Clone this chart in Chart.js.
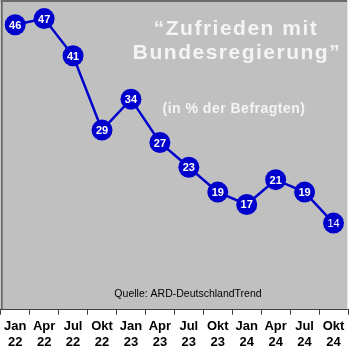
<!DOCTYPE html>
<html>
<head>
<meta charset="utf-8">
<script src="https://cdn.jsdelivr.net/npm/chart.js@4"></script>
<style>
  body { margin: 0; background: #fff; }
  #wrap { width: 350px; height: 360px; }
</style>
</head>
<body>
<div id="wrap"><canvas id="umfrage" width="350" height="360"></canvas></div>
<script>
// Werte aus dem ARD-DeutschlandTrend
const monate = ['Jan', 'Apr', 'Jul', 'Okt', 'Jan', 'Apr', 'Jul', 'Okt', 'Jan', 'Apr', 'Jul', 'Okt'];
const jahre = ['22', '22', '22', '22', '23', '23', '23', '23', '24', '24', '24', '24'];
const zufrieden = [46, 47, 41, 29, 34, 27, 23, 19, 17, 21, 19, 14];

const titelZeilen = ['\u201CZufrieden mit', 'Bundesregierung\u201D'];
const untertitel = '(in % der Befragten)';
const quelle = 'Quelle: ARD-DeutschlandTrend';

const blau = '#0000CC';
const schrift = '"Liberation Sans", Arial, sans-serif';

// grauer Hintergrund mit Rahmen
const hintergrund = {
  id: 'hintergrund',
  beforeDraw(chart) {
    const { ctx, chartArea: a } = chart;
    ctx.save();
    ctx.fillStyle = '#C0C0C0';
    ctx.fillRect(a.left, a.top, a.right - a.left, a.bottom - a.top);
    ctx.fillStyle = '#6a6a6a';
    ctx.fillRect(a.left, a.top, 2, a.bottom - a.top);
    ctx.fillRect(a.left, a.top, a.right - a.left, 2);
    ctx.fillStyle = '#e4e4e4';
    ctx.fillRect(a.right - 1, a.top, 1, a.bottom - a.top);
    ctx.restore();
  },
};

// Titel, Untertitel, Quelle und Werte in den Punkten
const texte = {
  id: 'texte',
  afterDatasetsDraw(chart) {
    const { ctx } = chart;
    ctx.save();
    ctx.textAlign = 'center';
    ctx.textBaseline = 'alphabetic';

    ctx.fillStyle = '#f4f4f4';
    ctx.font = 'bold 21px ' + schrift;
    ctx.letterSpacing = '1.5px';
    ctx.fillText(titelZeilen[0], 236, 35);
    ctx.fillText(titelZeilen[1], 237, 59);

    ctx.font = 'bold 14px ' + schrift;
    ctx.letterSpacing = '0.5px';
    ctx.fillText(untertitel, 234, 113);

    ctx.letterSpacing = '0px';
    ctx.fillStyle = '#000';
    ctx.font = '10.5px ' + schrift;
    ctx.fillText(quelle, 188, 297);

    const meta = chart.getDatasetMeta(0);
    ctx.fillStyle = '#fff';
    ctx.textBaseline = 'middle';
    meta.data.forEach((pt, i) => {
      const last = i === meta.data.length - 1;
      ctx.font = (last ? '' : 'bold ') + '11px ' + schrift;
      ctx.fillText(String(zufrieden[i]), pt.x, pt.y + 1);
    });
    ctx.restore();
  },
};

new Chart(document.getElementById('umfrage'), {
  type: 'line',
  data: {
    labels: monate.map((m, i) => [m, jahre[i]]),
    datasets: [
      {
        label: 'Zufrieden mit Bundesregierung',
        data: zufrieden,
        borderColor: blau,
        borderWidth: 2.5,
        backgroundColor: blau,
        pointRadius: 10.5,
        pointHoverRadius: 10.5,
        pointBorderWidth: 0,
        tension: 0,
        clip: false,
      },
    ],
  },
  options: {
    responsive: false,
    animation: false,
    layout: { autoPadding: false, padding: { left: 0, right: 2, top: 0, bottom: 6 } },
    plugins: {
      legend: { display: false },
      tooltip: { enabled: false },
    },
    scales: {
      x: {
        offset: true,
        grid: {
          offset: true,
          drawOnChartArea: false,
          tickLength: 5,
          color: '#404040',
        },
        border: { display: true, color: '#404040', width: 1 },
        ticks: {
          color: '#000',
          padding: 4,
          maxRotation: 0,
          autoSkip: false,
          font: { family: schrift, size: 13, weight: 'bold', lineHeight: 1.2 },
        },
      },
      y: {
        display: false,
        min: 0,
        max: 50,
      },
    },
  },
  plugins: [hintergrund, texte],
});
</script>
</body>
</html>
